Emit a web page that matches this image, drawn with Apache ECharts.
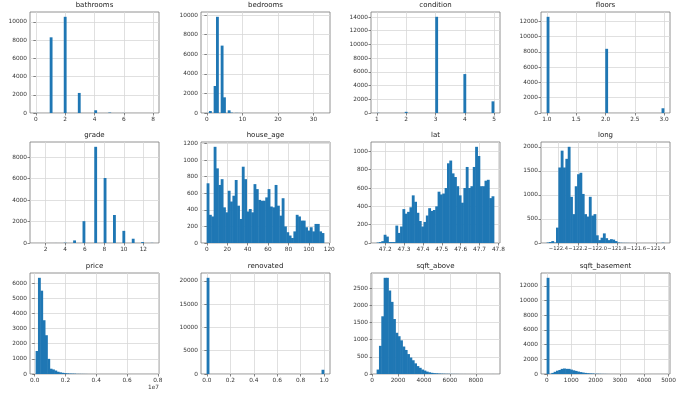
<!DOCTYPE html>
<html><head><meta charset="utf-8">
<script src="https://cdn.jsdelivr.net/npm/echarts@6/dist/echarts.min.js"></script>
<style>html,body{margin:0;padding:0;background:#fff}#c{width:680px;height:395px}</style>
</head><body><div id="c"></div>
<script>
// ---------- data (histogram counts, 50 bins each) ----------
const bathRange = [0, 8];
const bathValues = [0, 1, 2, 3, 4, 5, 6, 7, 8];
const bathCounts = [10, 8300, 10550, 2200, 300, 50, 8, 3, 1];
const bathXTicks = [0, 2, 4, 6, 8];
const bathYTicks = [0, 2000, 4000, 6000, 8000, 10000];

const bedRange = [0, 33];
const bedValues = [0, 1, 2, 3, 4, 5, 6, 7, 8, 9, 10, 11, 33];
const bedCounts = [13, 199, 2760, 9824, 6882, 1601, 272, 38, 13, 6, 3, 1, 1];
const bedXTicks = [0, 10, 20, 30];
const bedYTicks = [0, 2000, 4000, 6000, 8000, 10000];

const condRange = [1, 5];
const condValues = [1, 2, 3, 4, 5];
const condCounts = [29, 172, 14031, 5679, 1701];
const condXTicks = [1, 2, 3, 4, 5];
const condYTicks = [0, 2000, 4000, 6000, 8000, 10000, 12000, 14000];

const floorRange = [1, 3];
const floorValues = [1, 2, 3];
const floorCounts = [12590, 8402, 621];
const floorXTicks = [1.0, 1.5, 2.0, 2.5, 3.0];
const floorXLabels = ['1.0', '1.5', '2.0', '2.5', '3.0'];
const floorYTicks = [0, 2000, 4000, 6000, 8000, 10000, 12000];

const gradeRange = [1, 13];
const gradeValues = [1, 3, 4, 5, 6, 7, 8, 9, 10, 11, 12, 13];
const gradeCounts = [1, 3, 29, 242, 2038, 8981, 6068, 2615, 1134, 399, 89, 13];
const gradeXTicks = [2, 4, 6, 8, 10, 12];
const gradeYTicks = [0, 2000, 4000, 6000, 8000];

const ageRange = [0, 115];
const ageCounts = [720,340,320,1160,900,700,770,430,370,630,500,570,760,450,290,920,770,380,410,370,710,650,520,510,510,550,650,440,430,700,450,330,540,200,130,90,60,140,340,320,270,270,190,150,190,140,230,230,140,120];
const ageXTicks = [0, 20, 40, 60, 80, 100, 120];
const ageYTicks = [0, 200, 400, 600, 800, 1000, 1200];

const latRange = [47.1559, 47.7776];
const latCounts = [5,10,20,90,70,10,10,10,190,110,180,370,320,340,390,520,450,330,240,180,230,300,380,350,360,400,560,530,540,600,870,900,760,720,620,520,440,600,830,600,620,830,1050,950,620,620,680,690,490,510];
const latXTicks = [47.2, 47.3, 47.4, 47.5, 47.6, 47.7, 47.8];
const latXLabels = ['47.2', '47.3', '47.4', '47.5', '47.6', '47.7', '47.8'];
const latYTicks = [0, 200, 400, 600, 800, 1000];

const longRange = [-122.519, -121.315];
const longCounts = [10,20,40,10,320,1570,1920,1570,1750,2000,960,600,1180,1430,1460,1020,600,550,960,570,600,160,60,110,200,100,60,80,70,40,10,5,3,2,2,1,1,0,0,0,0,0,0,0,0,0,0,0,0,5];
const longXTicks = [-122.4, -122.2, -122.0, -121.8, -121.6, -121.4];
const longXLabels = ['\u2212122.4', '\u2212122.2', '\u2212122.0', '\u2212121.8', '\u2212121.6', '\u2212121.4'];
const longYTicks = [0, 500, 1000, 1500, 2000];

const priceRange = [75000, 7700000];
const priceCounts = [1520,6350,5500,3550,2560,1000,350,300,230,150,110,80,60,40,30,25,20,10,8,5,5,3,2,2,1,1,1,0,0,0,0,0,0,0,0,0,0,0,0,0,0,0,0,0,0,0,0,0,0,1];
const priceXTicks = [0, 2000000, 4000000, 6000000, 8000000];
const priceXLabels = ['0.0', '0.2', '0.4', '0.6', '0.8'];
const priceYTicks = [0, 1000, 2000, 3000, 4000, 5000, 6000];

const renRange = [0, 1];
const renValues = [0, 1];
const renCounts = [20680, 910];
const renXTicks = [0, 0.2, 0.4, 0.6, 0.8, 1.0];
const renXLabels = ['0.0', '0.2', '0.4', '0.6', '0.8', '1.0'];
const renYTicks = [0, 5000, 10000, 15000, 20000];

const aboveRange = [370, 9410];
const aboveCounts = [130,820,1680,2800,2800,2430,2100,1600,1200,1100,980,800,700,580,480,400,310,230,180,130,100,70,50,35,25,20,15,10,8,6,5,4,3,2,2,1,1,1,0,0,0,0,0,0,0,0,0,0,0,1];
const aboveXTicks = [0, 2000, 4000, 6000, 8000];
const aboveYTicks = [0, 500, 1000, 1500, 2000, 2500];

const baseRange = [0, 4820];
const baseCounts = [13100,20,150,300,450,550,700,750,700,700,600,500,420,330,260,200,150,110,80,60,40,30,20,15,10,8,5,4,3,2,2,1,1,1,0,0,0,0,0,0,0,0,0,0,0,0,0,0,0,1];
const baseXTicks = [0, 1000, 2000, 3000, 4000, 5000];
const baseYTicks = [0, 2000, 4000, 6000, 8000, 10000, 12000];

// ---------- helpers ----------
const NB = 50;
function binDiscrete(range, values, counts) {
  const w = (range[1] - range[0]) / NB;
  const out = new Array(NB).fill(0);
  values.forEach((v, k) => {
    let b = Math.floor((v - range[0]) / w + 1e-9);
    if (b >= NB) b = NB - 1;
    out[b] += counts[k];
  });
  return out;
}
function toRects(range, counts) {
  const w = (range[1] - range[0]) / NB;
  const d = [];
  counts.forEach((c, k) => { if (c > 0) d.push([range[0] + k * w, range[0] + (k + 1) * w, c]); });
  return d;
}

const panels = [
  {t: 'bathrooms', r: bathRange, c: binDiscrete(bathRange, bathValues, bathCounts), xt: bathXTicks, yt: bathYTicks},
  {t: 'bedrooms', r: bedRange, c: binDiscrete(bedRange, bedValues, bedCounts), xt: bedXTicks, yt: bedYTicks},
  {t: 'condition', r: condRange, c: binDiscrete(condRange, condValues, condCounts), xt: condXTicks, yt: condYTicks},
  {t: 'floors', r: floorRange, c: binDiscrete(floorRange, floorValues, floorCounts), xt: floorXTicks, xl: floorXLabels, yt: floorYTicks},
  {t: 'grade', r: gradeRange, c: binDiscrete(gradeRange, gradeValues, gradeCounts), xt: gradeXTicks, yt: gradeYTicks},
  {t: 'house_age', r: ageRange, c: ageCounts, xt: ageXTicks, yt: ageYTicks},
  {t: 'lat', r: latRange, c: latCounts, xt: latXTicks, xl: latXLabels, yt: latYTicks},
  {t: 'long', r: longRange, c: longCounts, xt: longXTicks, xl: longXLabels, yt: longYTicks, fs: 5.2},
  {t: 'price', r: priceRange, c: priceCounts, xt: priceXTicks, xl: priceXLabels, yt: priceYTicks},
  {t: 'renovated', r: renRange, c: binDiscrete(renRange, renValues, renCounts), xt: renXTicks, xl: renXLabels, yt: renYTicks},
  {t: 'sqft_above', r: aboveRange, c: aboveCounts, xt: aboveXTicks, yt: aboveYTicks},
  {t: 'sqft_basement', r: baseRange, c: baseCounts, xt: baseXTicks, yt: baseYTicks}
];

const colLeft = [30, 201, 371, 541];
const rowTop = [12, 142, 273];
const W = 129, H = 101;
const FONT = 'DejaVu Sans';
const BAR = '#1f77b4';

function labelFor(list, labels) {
  return function (v) {
    let best = 0;
    for (let k = 1; k < list.length; k++) if (Math.abs(list[k] - v) < Math.abs(list[best] - v)) best = k;
    return labels ? labels[best] : String(list[best]);
  };
}

const grids = [], xAxes = [], yAxes = [], series = [], titles = [];
panels.forEach((p, i) => {
  const row = Math.floor(i / 4), col = i % 4;
  grids.push({left: colLeft[col], top: rowTop[row], width: W, height: H, show: true,
    borderColor: '#777', borderWidth: 0.8, backgroundColor: 'transparent'});
  const span = p.r[1] - p.r[0];
  const ymax = Math.max.apply(null, p.c) * 1.05;
  xAxes.push({type: 'value', gridIndex: i, min: p.r[0] - 0.05 * span, max: p.r[1] + 0.05 * span,
    axisLine: {show: false},
    axisTick: {show: true, inside: false, length: 2.5, customValues: p.xt, lineStyle: {color: '#555', width: 0.7}},
    axisLabel: {customValues: p.xt, formatter: labelFor(p.xt, p.xl), fontFamily: FONT, fontSize: p.fs || 5.8, color: '#333', margin: 3,
      showMinLabel: true, showMaxLabel: true, hideOverlap: false},
    splitLine: {show: true, lineStyle: {color: '#d8d8d8', width: 0.8}}});
  yAxes.push({type: 'value', gridIndex: i, min: 0, max: ymax,
    axisLine: {show: false},
    axisTick: {show: true, inside: false, length: 2.5, customValues: p.yt, lineStyle: {color: '#555', width: 0.7}},
    axisLabel: {customValues: p.yt, formatter: labelFor(p.yt), fontFamily: FONT, fontSize: 5.8, color: '#333', margin: 3,
      showMinLabel: true, showMaxLabel: true, hideOverlap: false},
    splitLine: {show: true, lineStyle: {color: '#d8d8d8', width: 0.8}}});
  series.push({type: 'custom', xAxisIndex: i, yAxisIndex: i, coordinateSystem: 'cartesian2d',
    data: toRects(p.r, p.c), encode: {x: [0, 1], y: 2}, silent: true, animation: false,
    renderItem: function (params, api) {
      const a = api.coord([api.value(0), api.value(2)]);
      const b = api.coord([api.value(1), 0]);
      return {type: 'rect', shape: {x: a[0] - 0.25, y: a[1], width: b[0] - a[0] + 0.5, height: b[1] - a[1]},
        style: {fill: BAR}};
    }});
  titles.push({text: p.t, left: colLeft[col] + W / 2, top: rowTop[row] - 10, textAlign: 'center', padding: 0,
    textStyle: {fontFamily: FONT, fontSize: 7, fontWeight: 'normal', color: '#222'}});
});

const chart = echarts.init(document.getElementById('c'), null, {renderer: 'canvas'});
chart.setOption({
  animation: false,
  title: titles,
  grid: grids,
  xAxis: xAxes,
  yAxis: yAxes,
  series: series,
  graphic: [{type: 'text', right: 680 - (colLeft[0] + W), top: 384,
    style: {text: '1e7', font: '5.8px "DejaVu Sans"', fill: '#333'}}]
});
</script></body></html>
